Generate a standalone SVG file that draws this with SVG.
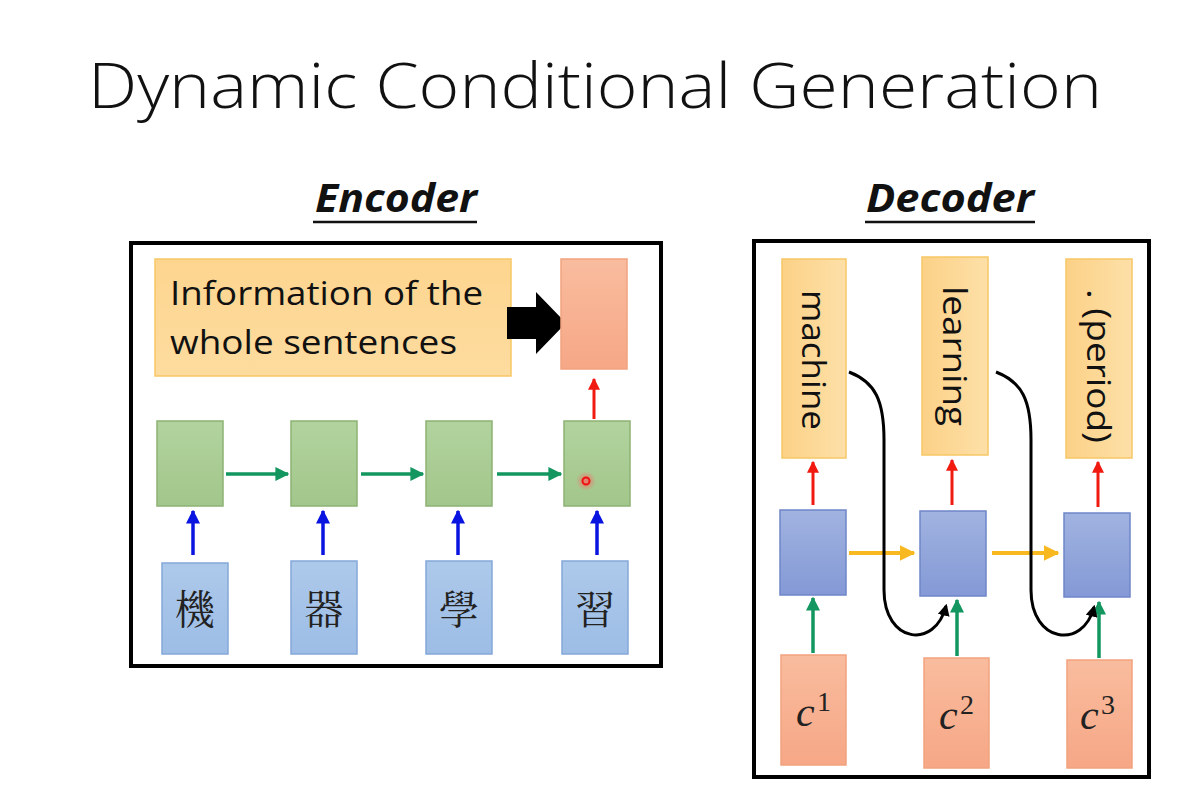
<svg xmlns="http://www.w3.org/2000/svg" width="1187" height="807" viewBox="0 0 1187 807">
<defs>
<linearGradient id="gOr" x1="0" y1="0" x2="0" y2="1"><stop offset="0" stop-color="#fdd58f"/><stop offset="1" stop-color="#fddc9f"/></linearGradient>
<linearGradient id="gOrV" x1="0" y1="0" x2="1" y2="0"><stop offset="0" stop-color="#fcd187"/><stop offset="1" stop-color="#fde0a8"/></linearGradient>
<linearGradient id="gSal" x1="0" y1="0" x2="0" y2="1"><stop offset="0" stop-color="#f9bc9e"/><stop offset="1" stop-color="#f6a786"/></linearGradient>
<linearGradient id="gGr" x1="0" y1="0" x2="0" y2="1"><stop offset="0" stop-color="#b2d39e"/><stop offset="1" stop-color="#a2c68b"/></linearGradient>
<linearGradient id="gBl" x1="0" y1="0" x2="0" y2="1"><stop offset="0" stop-color="#adc9ea"/><stop offset="1" stop-color="#9dbde6"/></linearGradient>
<linearGradient id="gDb" x1="0" y1="0" x2="0" y2="1"><stop offset="0" stop-color="#a1b3e0"/><stop offset="1" stop-color="#8499d6"/></linearGradient>
<radialGradient id="glow"><stop offset="0" stop-color="#ff6060" stop-opacity="0.8"/><stop offset="1" stop-color="#ff6060" stop-opacity="0"/></radialGradient>
<marker id="mG" viewBox="0 0 10 10" refX="9" refY="5" markerWidth="4" markerHeight="4" orient="auto"><path d="M0,0 L10,5 L0,10 z" fill="#13965f"/></marker>
<marker id="mB" viewBox="0 0 10 10" refX="9" refY="5" markerWidth="4" markerHeight="4" orient="auto"><path d="M0,0 L10,5 L0,10 z" fill="#0a14e0"/></marker>
<marker id="mR" viewBox="0 0 10 10" refX="9" refY="5" markerWidth="4" markerHeight="4" orient="auto"><path d="M0,0 L10,5 L0,10 z" fill="#f01a10"/></marker>
<marker id="mY" viewBox="0 0 10 10" refX="9" refY="5" markerWidth="4" markerHeight="4" orient="auto"><path d="M0,0 L10,5 L0,10 z" fill="#f8b820"/></marker>
<marker id="mK" viewBox="0 0 10 10" refX="8" refY="5" markerWidth="4" markerHeight="4" orient="auto"><path d="M0,0 L10,5 L0,10 z" fill="#000"/></marker>
</defs>
<style>
.title{font-family:"Open Sans","Liberation Sans",sans-serif;font-weight:300;font-size:62px;fill:#111}
.head{font-family:"Open Sans","Liberation Sans",sans-serif;font-weight:700;font-style:italic;font-size:40px;fill:#111}
.frame{fill:#fff;stroke:#000;stroke-width:4}
.or{fill:url(#gOr);stroke:#f7c766;stroke-width:1.5}
.orv{fill:url(#gOrV);stroke:#f7c766;stroke-width:1.5}
.sal{fill:url(#gSal);stroke:#f2a27f;stroke-width:1.5}
.gr{fill:url(#gGr);stroke:#8db274;stroke-width:1.5}
.bl{fill:url(#gBl);stroke:#84a8d8;stroke-width:1.5}
.db{fill:url(#gDb);stroke:#6f86c8;stroke-width:1.5}
.txt{font-family:"Open Sans","Liberation Sans",sans-serif;font-size:32px;fill:#111}
.cjk{font-family:"Noto Serif CJK TC","Noto Sans CJK TC",serif;font-size:40px;fill:#222}
.cv{font-family:"Liberation Serif","DejaVu Serif",serif;font-style:italic;font-size:42px;fill:#222}
.sup{font-family:"Liberation Serif","DejaVu Serif",serif;font-size:28px;fill:#222}
.ag{stroke:#13965f;stroke-width:3.5;fill:none;marker-end:url(#mG)}
.ab{stroke:#0a14e0;stroke-width:3.5;fill:none;marker-end:url(#mB)}
.ar{stroke:#f01a10;stroke-width:3;fill:none;marker-end:url(#mR)}
.ay{stroke:#f8b820;stroke-width:4;fill:none;marker-end:url(#mY)}
.ak{stroke:#000;stroke-width:3;fill:none;marker-end:url(#mK)}
</style>
<rect width="1187" height="807" fill="#fff"/>
<text class="title" x="88" y="108" textLength="1014" lengthAdjust="spacingAndGlyphs">Dynamic Conditional Generation</text>

<g id="encoder-title">
<text class="head" x="315" y="212" textLength="162" lengthAdjust="spacingAndGlyphs">Encoder</text>
<line x1="313" y1="222" x2="477" y2="222" stroke="#111" stroke-width="2.5"/>
</g>
<g id="decoder-title">
<text class="head" x="866" y="212" textLength="168" lengthAdjust="spacingAndGlyphs">Decoder</text>
<line x1="865" y1="222" x2="1035" y2="222" stroke="#111" stroke-width="2.5"/>
</g>

<g id="encoder-frame"><rect class="frame" x="131" y="243" width="530" height="423"/></g>
<g id="decoder-frame"><rect class="frame" x="754" y="241" width="395" height="536"/></g>

<g id="info">
<rect class="or" x="155" y="259" width="356" height="117"/>
<text class="txt" x="170" y="305" textLength="313" lengthAdjust="spacingAndGlyphs">Information of the</text>
<text class="txt" x="170" y="354" textLength="287" lengthAdjust="spacingAndGlyphs">whole sentences</text>
</g>
<g id="block-arrow"><path d="M507,307 L536,307 L536,292 L566,323 L536,354 L536,339 L507,339 Z" fill="#000"/></g>
<g id="enc-out"><rect class="sal" x="561" y="259" width="66" height="110"/></g>

<g id="enc-h1"><rect class="gr" x="157" y="421" width="66" height="85"/></g>
<g id="enc-h2"><rect class="gr" x="291" y="421" width="66" height="85"/></g>
<g id="enc-h3"><rect class="gr" x="426" y="421" width="66" height="85"/></g>
<g id="enc-h4"><rect class="gr" x="564" y="421" width="66" height="85"/>
<circle cx="586" cy="481" r="10" fill="url(#glow)"/>
<circle cx="586" cy="481" r="3.5" fill="none" stroke="#f01010" stroke-width="2"/></g>

<g id="enc-x1"><rect class="bl" x="162" y="563" width="66" height="91"/><text class="cjk" x="195" y="624" text-anchor="middle">機</text></g>
<g id="enc-x2"><rect class="bl" x="291" y="561" width="66" height="93"/><text class="cjk" x="324" y="624" text-anchor="middle">器</text></g>
<g id="enc-x3"><rect class="bl" x="426" y="561" width="66" height="93"/><text class="cjk" x="459" y="624" text-anchor="middle">學</text></g>
<g id="enc-x4"><rect class="bl" x="562" y="561" width="66" height="93"/><text class="cjk" x="595" y="624" text-anchor="middle">習</text></g>

<g id="dec-y1"><rect class="orv" x="782" y="259" width="64" height="199"/><text class="txt" transform="translate(802,360) rotate(90)" text-anchor="middle" textLength="140" lengthAdjust="spacingAndGlyphs">machine</text></g>
<g id="dec-y2"><rect class="orv" x="922" y="257" width="66" height="198"/><text class="txt" transform="translate(943,356) rotate(90)" text-anchor="middle" textLength="140" lengthAdjust="spacingAndGlyphs">learning</text></g>
<g id="dec-y3"><rect class="orv" x="1066" y="259" width="66" height="199"/><text class="txt" transform="translate(1087,366) rotate(90)" text-anchor="middle" textLength="154" lengthAdjust="spacingAndGlyphs">. (period)</text></g>

<g id="dec-h1"><rect class="db" x="780" y="510" width="66" height="85"/></g>
<g id="dec-h2"><rect class="db" x="920" y="511" width="66" height="85"/></g>
<g id="dec-h3"><rect class="db" x="1064" y="513" width="66" height="84"/></g>

<g id="dec-c1"><rect class="sal" x="781" y="655" width="65" height="110"/><text class="cv" x="796" y="726">c</text><text class="sup" x="817" y="711">1</text></g>
<g id="dec-c2"><rect class="sal" x="924" y="658" width="65" height="110"/><text class="cv" x="939" y="729">c</text><text class="sup" x="960" y="714">2</text></g>
<g id="dec-c3"><rect class="sal" x="1067" y="660" width="65" height="108"/><text class="cv" x="1080" y="729">c</text><text class="sup" x="1101" y="714">3</text></g>

<g id="connectors">
<line class="ar" x1="594" y1="419" x2="594" y2="379"/>
<line class="ag" x1="226" y1="474" x2="288" y2="474"/>
<line class="ag" x1="361" y1="474" x2="423" y2="474"/>
<line class="ag" x1="497" y1="474" x2="561" y2="474"/>
<line class="ab" x1="193" y1="555" x2="193" y2="511"/>
<line class="ab" x1="323" y1="555" x2="323" y2="511"/>
<line class="ab" x1="458" y1="555" x2="458" y2="511"/>
<line class="ab" x1="597" y1="555" x2="597" y2="511"/>
<line class="ar" x1="813" y1="505" x2="813" y2="462"/>
<line class="ar" x1="952" y1="505" x2="952" y2="460"/>
<line class="ar" x1="1098" y1="507" x2="1098" y2="462"/>
<line class="ay" x1="849" y1="553" x2="914" y2="553"/>
<line class="ay" x1="992" y1="553" x2="1058" y2="553"/>
<line class="ag" x1="813" y1="653" x2="813" y2="598"/>
<line class="ag" x1="957" y1="656" x2="957" y2="600"/>
<line class="ag" x1="1099" y1="658" x2="1099" y2="602"/>
<path class="ak" d="M849,372 C875,382 884,400 884,440 L884,590 C884,643 935,650 946,606"/>
<path class="ak" d="M996,372 C1022,382 1031,400 1031,440 L1031,590 C1031,643 1083,650 1094,607"/>
</g>
</svg>
